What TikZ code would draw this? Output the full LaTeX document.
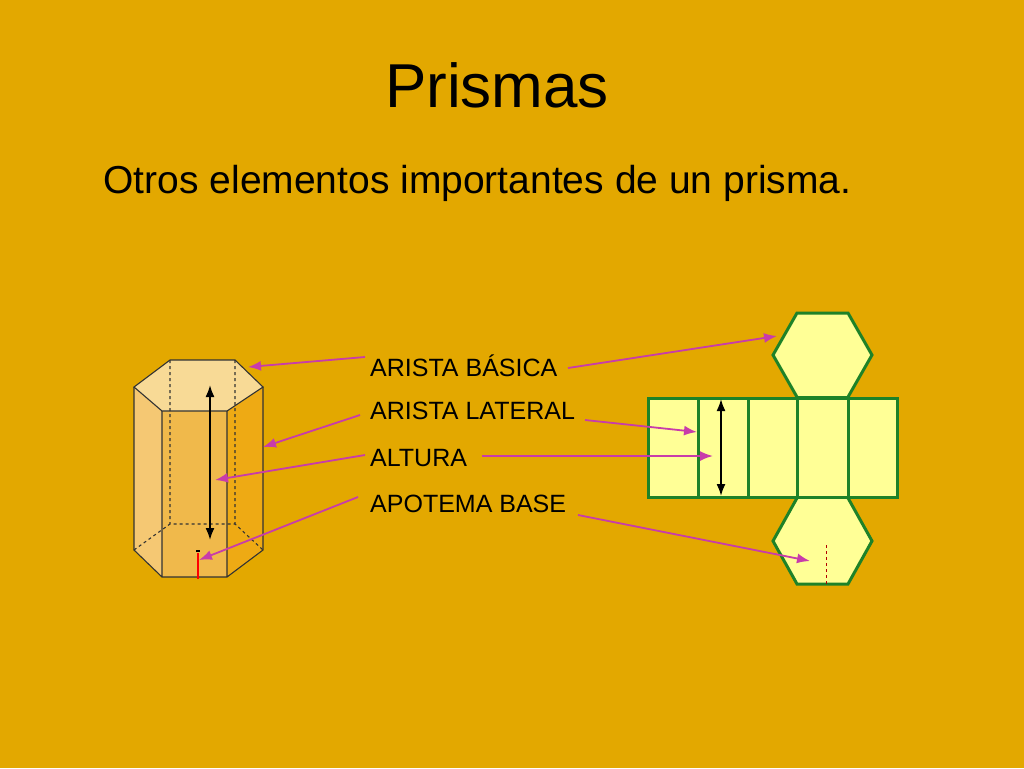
\documentclass[tikz,border=0pt]{standalone}
\usepackage{fontspec}
\setmainfont{Liberation Sans}
\usetikzlibrary{arrows.meta}
\definecolor{bg}{RGB}{227,168,0}
\definecolor{fl}{RGB}{245,200,115}
\definecolor{ff}{RGB}{240,185,75}
\definecolor{fr}{RGB}{238,170,20}
\definecolor{ft}{RGB}{248,218,150}
\definecolor{ptrc}{RGB}{200,60,170}
\definecolor{netg}{RGB}{30,130,40}
\definecolor{nety}{RGB}{255,255,150}
\begin{document}
\begin{tikzpicture}[x=1pt,y=-1pt,
  lbl/.style={anchor=west,font=\fontsize{25}{25}\selectfont,inner sep=0},
  ptr/.style={draw=ptrc,line width=1.8pt,-{Latex[length=13pt,width=10pt]}},
  net/.style={draw=netg,line width=3pt,fill=nety},
  edge/.style={draw=black!80,line width=1.1pt}]
\fill[bg] (0,0) rectangle (1024,768);
\useasboundingbox (0,0) rectangle (1024,768);
\node (title) at (497,85) {\fontsize{62}{62}\selectfont Prismas};
\node[anchor=west] (sub) at (100,183) {\fontsize{39}{39}\selectfont Otros elementos importantes de un prisma.};
% prism
\fill[fl] (134,387)--(162,411)--(162,577)--(134,550)--cycle;
\fill[ff] (162,411)--(227,411)--(227,577)--(162,577)--cycle;
\fill[fr] (227,411)--(263,387)--(263,550)--(227,577)--cycle;
\fill[ft] (170,360)--(235,360)--(263,387)--(227,411)--(162,411)--(134,387)--cycle;
\draw[edge,dashed] (170,360)--(170,524) (235,360)--(235,524) (134,550)--(170,524)--(235,524)--(263,550);
\draw[edge] (170,360)--(235,360)--(263,387)--(227,411)--(162,411)--(134,387)--cycle;
\draw[edge] (134,387)--(134,550)--(162,577)--(227,577)--(263,550)--(263,387) (162,411)--(162,577) (227,411)--(227,577);
\draw[line width=1.8pt,{Latex[length=12pt,width=9pt]}-{Latex[length=12pt,width=9pt]}] (210,385)--(210,540);
\draw[red,line width=1.6pt] (198,553)--(198,579);
\draw[black,line width=1.2pt] (196,551)--(200,551);
% net
\draw[net] (648,398) rectangle (897,497);
\draw[net] (698,398)--(698,497) (748,398)--(748,497) (797,398)--(797,497) (848,398)--(848,497);
\draw[net] (797,397)--(773,355)--(797,313)--(848,313)--(872,355)--(848,397);
\draw[net] (797,498)--(773,541)--(797,584)--(848,584)--(872,541)--(848,498);
\draw[netg,line width=1.5pt] (797,397)--(848,397) (797,498)--(848,498);
\draw[line width=1.8pt,{Latex[length=12pt,width=9pt]}-{Latex[length=12pt,width=9pt]}] (721,399)--(721,496);
\draw[red!70!black,dashed,line width=1pt] (826,545)--(826,584);
% labels
\node[lbl] (l1) at (370,366) {ARISTA BÁSICA};
\node[lbl] (l2) at (370,411) {ARISTA LATERAL};
\node[lbl] (l3) at (370,458) {ALTURA};
\node[lbl] (l4) at (370,504) {APOTEMA BASE};
\draw[ptr] (365,357)--(248,367);
\draw[ptr] (568,368)--(777,336);
\draw[ptr] (360,415)--(263,447);
\draw[ptr] (585,420)--(697,432);
\draw[ptr] (365,455)--(215,480);
\draw[ptr] (482,456)--(713,456);
\draw[ptr] (358,497)--(199,560);
\draw[ptr] (578,515)--(810,561);
\end{tikzpicture}
\end{document}
